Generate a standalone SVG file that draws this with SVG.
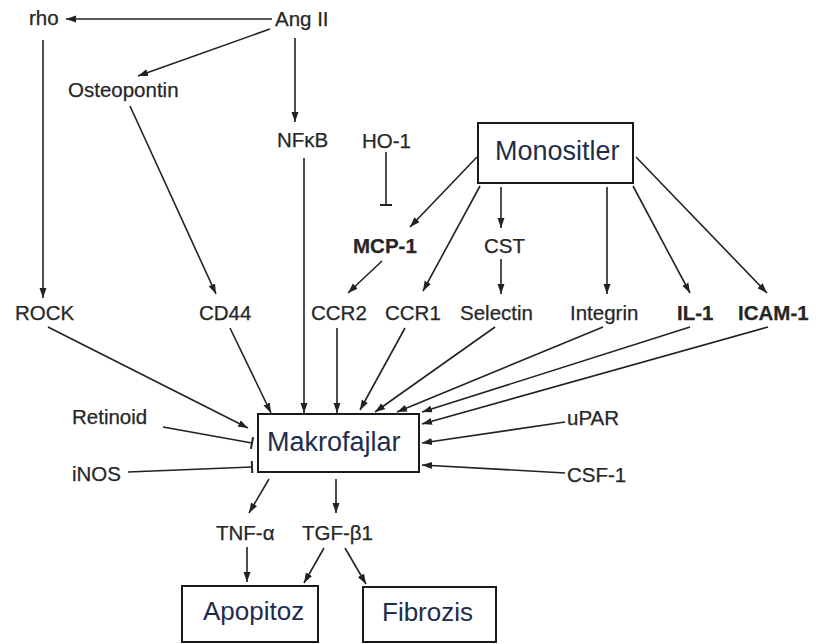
<svg xmlns="http://www.w3.org/2000/svg" width="816" height="644" viewBox="0 0 816 644">
<style>
.l{font-family:"Liberation Sans",Arial,sans-serif;font-size:20.5px;fill:#262626;stroke:#262626;stroke-width:0.25}
.b{font-weight:bold}
.big{font-family:"Liberation Sans",Arial,sans-serif;font-size:27px;fill:#1f2d4d}
.box{fill:#fff;stroke:#1a1a1a;stroke-width:2}
.c line{stroke:#222;stroke-width:1.6;fill:none}
.a{marker-end:url(#ah)}
.t{marker-end:url(#tb)}
</style>
<defs>
<marker id="ah" markerUnits="userSpaceOnUse" markerWidth="10" markerHeight="8" refX="10" refY="4" orient="auto">
<path d="M0,0.5 L10,4 L0,7.5 z" fill="#222"/>
</marker>
<marker id="tb" markerUnits="userSpaceOnUse" markerWidth="4" markerHeight="14" refX="2" refY="7" orient="auto">
<path d="M2,1 L2,13" stroke="#222" stroke-width="2"/>
</marker>
</defs>
<rect width="816" height="644" fill="#fff"/>
<g id="connectors" class="c">
<line class="a" x1="272" y1="19" x2="66" y2="19"/>
<line class="a" x1="270" y1="29" x2="138" y2="76"/>
<line class="a" x1="295" y1="38" x2="295" y2="122"/>
<line class="a" x1="43" y1="40" x2="43" y2="298"/>
<line class="a" x1="130" y1="106" x2="216" y2="294"/>
<line class="a" x1="304" y1="158" x2="304" y2="413"/>
<line class="t" x1="386" y1="152" x2="386" y2="205"/>
<line class="a" x1="477" y1="157" x2="410" y2="227"/>
<line class="a" x1="382" y1="261" x2="348" y2="293"/>
<line class="a" x1="480" y1="186" x2="423" y2="291"/>
<line class="a" x1="501" y1="187" x2="501" y2="228"/>
<line class="a" x1="501" y1="259" x2="501" y2="294"/>
<line class="a" x1="607" y1="187" x2="607" y2="294"/>
<line class="a" x1="633" y1="186" x2="690" y2="293"/>
<line class="a" x1="636" y1="157" x2="767" y2="293"/>
<line class="a" x1="48" y1="327" x2="248" y2="428"/>
<line class="a" x1="230" y1="328" x2="271" y2="413"/>
<line class="a" x1="337" y1="328" x2="337" y2="413"/>
<line class="a" x1="405" y1="328" x2="360" y2="410"/>
<line class="a" x1="495" y1="327" x2="375" y2="412"/>
<line class="a" x1="603" y1="327" x2="397" y2="412"/>
<line class="a" x1="690" y1="327" x2="422" y2="412"/>
<line class="a" x1="768" y1="327" x2="422" y2="424"/>
<line class="a" x1="565" y1="422" x2="422" y2="443"/>
<line class="a" x1="565" y1="473" x2="422" y2="465"/>
<line class="t" x1="163" y1="427" x2="252" y2="443"/>
<line class="t" x1="128" y1="472" x2="252" y2="467"/>
<line class="a" x1="269" y1="479" x2="249" y2="513"/>
<line class="a" x1="336" y1="479" x2="336" y2="513"/>
<line class="a" x1="247" y1="547" x2="247" y2="582"/>
<line class="a" x1="324" y1="548" x2="304" y2="583"/>
<line class="a" x1="345" y1="548" x2="366" y2="584"/>
</g>
<g id="rho"><text class="l" x="29" y="25">rho</text></g>
<g id="angii"><text class="l" x="275" y="26">Ang II</text></g>
<g id="osteopontin"><text class="l" x="68" y="97">Osteopontin</text></g>
<g id="nfkb"><text class="l" x="277" y="147">NFκB</text></g>
<g id="ho1"><text class="l" x="362" y="148">HO-1</text></g>
<g id="monositler"><rect class="box" x="478" y="123" width="155" height="60"/><text class="big" x="495" y="160">Monositler</text></g>
<g id="mcp1"><text class="l b" x="353" y="253">MCP-1</text></g>
<g id="cst"><text class="l" x="484" y="253">CST</text></g>
<g id="rock"><text class="l" x="15" y="320">ROCK</text></g>
<g id="cd44"><text class="l" x="199" y="320">CD44</text></g>
<g id="ccr2"><text class="l" x="311" y="320">CCR2</text></g>
<g id="ccr1"><text class="l" x="385" y="320">CCR1</text></g>
<g id="selectin"><text class="l" x="460" y="320">Selectin</text></g>
<g id="integrin"><text class="l" x="570" y="320">Integrin</text></g>
<g id="il1"><text class="l b" x="677" y="320">IL-1</text></g>
<g id="icam1"><text class="l b" x="738" y="320">ICAM-1</text></g>
<g id="retinoid"><text class="l" x="72" y="424">Retinoid</text></g>
<g id="inos"><text class="l" x="72" y="481">iNOS</text></g>
<g id="upar"><text class="l" x="567" y="425">uPAR</text></g>
<g id="csf1"><text class="l" x="567" y="482">CSF-1</text></g>
<g id="makrofajlar"><rect class="box" x="258" y="414" width="161" height="58"/><text class="big" x="267" y="451">Makrofajlar</text></g>
<g id="tnfa"><text class="l" x="216" y="540">TNF-α</text></g>
<g id="tgfb1"><text class="l" x="302" y="540">TGF-β1</text></g>
<g id="apopitoz"><rect class="box" x="182" y="586" width="136" height="56"/><text class="big" x="203" y="620" style="font-size:26px">Apopitoz</text></g>
<g id="fibrozis"><rect class="box" x="363" y="587" width="133" height="55"/><text class="big" x="382" y="621" style="font-size:26px">Fibrozis</text></g>
</svg>
